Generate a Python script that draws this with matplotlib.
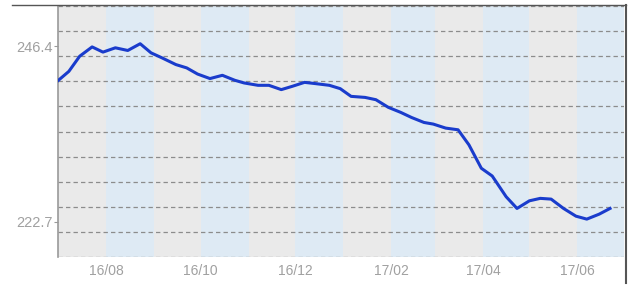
import numpy as np
import pandas as pd
import matplotlib
matplotlib.use("Agg")
import matplotlib.pyplot as plt
from matplotlib.lines import Line2D

# weekly values
dates = ["2016-07-01", "2016-07-08", "2016-07-15", "2016-07-23", "2016-07-30",
         "2016-08-07", "2016-08-15", "2016-08-23", "2016-08-30", "2016-09-06",
         "2016-09-15", "2016-09-22", "2016-09-29", "2016-10-07", "2016-10-15",
         "2016-10-23", "2016-10-29", "2016-11-07", "2016-11-14", "2016-11-22",
         "2016-11-29", "2016-12-07", "2016-12-14", "2016-12-23", "2016-12-30",
         "2017-01-06", "2017-01-15", "2017-01-22", "2017-01-30", "2017-02-07",
         "2017-02-14", "2017-02-22", "2017-02-28", "2017-03-08", "2017-03-16",
         "2017-03-23", "2017-03-31", "2017-04-07", "2017-04-16", "2017-04-23",
         "2017-05-01", "2017-05-08", "2017-05-15", "2017-05-23", "2017-05-31",
         "2017-06-07", "2017-06-15", "2017-06-22"]
values = [241.75, 243.0, 245.05, 246.3, 245.6,
          246.18, 245.82, 246.73, 245.5, 244.83,
          243.92, 243.47, 242.64, 242.03, 242.47,
          241.8, 241.44, 241.12, 241.12, 240.54,
          240.98, 241.52, 241.35, 241.12, 240.67,
          239.63, 239.49, 239.18, 238.15, 237.47,
          236.78, 236.11, 235.89, 235.35, 235.12,
          233.09, 229.93, 228.89, 226.09, 224.51,
          225.54, 225.87, 225.77, 224.51, 223.47,
          223.07, 223.74, 224.51]

y_ticks = [222.7, 246.4]
y_labels = ["222.7", "246.4"]
x_tick_dates = ["2016-08-01", "2016-10-01", "2016-12-01",
                "2017-02-01", "2017-04-01", "2017-06-01"]
x_tick_labels = ["16/08", "16/10", "16/12", "17/02", "17/04", "17/06"]

x_start, x_end = "2016-07-01", "2017-07-01"
y_min, y_max = 217.96, 251.82

plt.rcParams['font.family'] = ['Liberation Sans', 'DejaVu Sans']

fig = plt.figure(figsize=(6.4, 2.85), dpi=100)
ax = fig.add_axes([58 / 640, 1 - 257 / 285, (624 - 58) / 640, (257 - 6) / 285])

dt = pd.to_datetime(dates)
ax.set_xlim(pd.Timestamp(x_start), pd.Timestamp(x_end))
ax.set_ylim(y_min, y_max)

# monthly bands, alternating gray / light blue
months = pd.date_range(x_start, x_end, freq="MS")
for i in range(len(months) - 1):
    col = "#eaeaea" if i % 2 == 0 else "#deeaf4"
    ax.axvspan(months[i], months[i + 1], color=col, lw=0, zorder=0)

# dashed horizontal grid
for gy in np.linspace(y_min, y_max, 11):
    ax.axhline(gy, color="#8c8c8c", lw=0.9, ls=(0, (3.5, 2.5)), zorder=1)

ax.plot(dt, values, color="#1a3ccc", lw=2.2, zorder=3, solid_joinstyle="round")

ax.set_yticks(y_ticks)
ax.set_yticklabels(y_labels)
ax.set_xticks(pd.to_datetime(x_tick_dates))
ax.set_xticklabels(x_tick_labels)
ax.tick_params(axis="y", labelsize=10.5, length=3, width=0.8, pad=1, color="#999999")
ax.tick_params(axis="x", labelsize=10, length=0, pad=5)
for lab in ax.get_xticklabels() + ax.get_yticklabels():
    lab.set_color("#a0a0a0")

for side in ["top", "right", "bottom"]:
    ax.spines[side].set_visible(False)
ax.spines["left"].set_color("#999999")
ax.spines["left"].set_linewidth(1.2)

# outer frame lines
fig.add_artist(Line2D([12 / 640, 626 / 640], [1 - 5 / 285, 1 - 5 / 285],
                      color="#555555", lw=1.0))
fig.add_artist(Line2D([626 / 640, 626 / 640], [1 - 5 / 285, 1 - 283 / 285],
                      color="#555555", lw=1.5))

fig.savefig("out.png", dpi=100)
